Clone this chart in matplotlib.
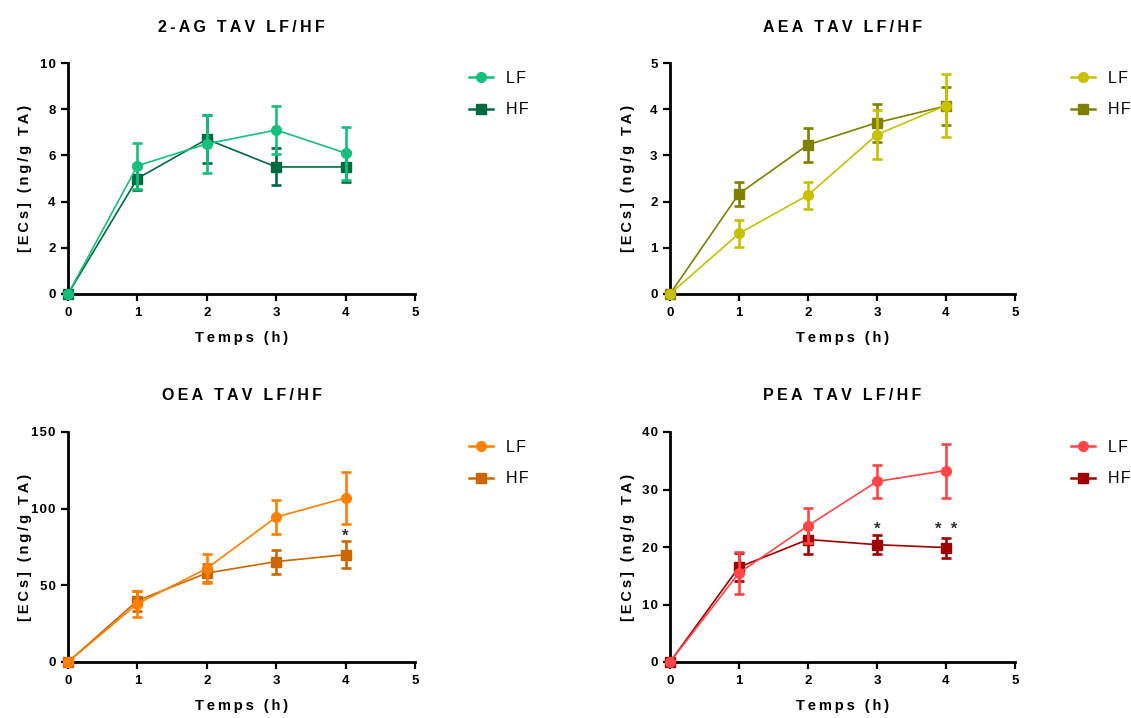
import matplotlib
matplotlib.use("Agg")
import matplotlib.pyplot as plt
from matplotlib.lines import Line2D

plt.rcParams['font.family'] = ['Liberation Sans', 'DejaVu Sans']

hours = [0, 1, 2, 3, 4]

titles = ["2-AG TAV LF/HF", "AEA TAV LF/HF", "OEA TAV LF/HF", "PEA TAV LF/HF"]

ag_lf = [0, 5.55, 6.5, 7.1, 6.1]
ag_lf_err = [0, 1.0, 1.25, 1.05, 1.15]
ag_hf = [0, 5.0, 6.7, 5.5, 5.5]
ag_hf_err = [0, 0.5, 1.05, 0.8, 0.65]

aea_lf = [0, 1.31, 2.14, 3.45, 4.08]
aea_lf_err = [0, 0.29, 0.29, 0.53, 0.68]
aea_hf = [0, 2.17, 3.23, 3.71, 4.07]
aea_hf_err = [0, 0.26, 0.37, 0.41, 0.41]

oea_lf = [0, 38, 61, 94.5, 107]
oea_lf_err = [0, 8.5, 9.5, 11, 17]
oea_hf = [0, 40, 58, 65.5, 70]
oea_hf_err = [0, 6.5, 6, 7.8, 9]

pea_lf = [0, 15.5, 23.7, 31.4, 33.3]
pea_lf_err = [0, 3.6, 3.0, 2.8, 4.7]
pea_hf = [0, 16.5, 21.3, 20.4, 19.9]
pea_hf_err = [0, 2.4, 2.6, 1.7, 1.75]

y_max = [10, 5, 150, 40]
y_step = [2, 1, 50, 10]

lf_colors = ["#14c07c", "#c8c000", "#ff8000", "#ff4545"]
hf_colors = ["#006a40", "#808000", "#cc6600", "#a00000"]

# significance marks per panel
stars_x = [[], [], [4], [3, 4]]
stars_y = [[], [], [82], [23.0, 23.0]]
stars_txt = [[], [], ["*"], ["*", "*  *"]]

series = [
    (ag_lf, ag_lf_err, ag_hf, ag_hf_err),
    (aea_lf, aea_lf_err, aea_hf, aea_hf_err),
    (oea_lf, oea_lf_err, oea_hf, oea_hf_err),
    (pea_lf, pea_lf_err, pea_hf, pea_hf_err),
]


def spaced(s, sep="\u2009"):
    return sep.join(s)


W, H = 1131, 718
fig = plt.figure(figsize=(W / 100, H / 100), dpi=100)

# axes boxes in pixel coords: left, right, top, bottom
boxes = [(68, 415, 63, 294), (670, 1015, 63, 294),
         (68, 415, 432, 662), (670, 1015, 432, 662)]
legend_pos = [(469, 94), (1071, 94), (469, 463), (1071, 463)]
ylabel_x = [25, 628, 25, 628]

for i in range(4):
    l, r, t, b = boxes[i]
    ax = fig.add_axes([l / W, 1 - b / H, (r - l) / W, (b - t) / H])
    lf, lfe, hf, hfe = series[i]

    ax.errorbar(hours, hf, yerr=hfe, color=hf_colors[i], marker='s', markersize=7,
                linewidth=1.2, elinewidth=1.9, capsize=3.4, capthick=1.9,
                clip_on=False, zorder=3)
    ax.errorbar(hours, lf, yerr=lfe, color=lf_colors[i], marker='o', markersize=7,
                linewidth=1.2, elinewidth=1.9, capsize=3.4, capthick=1.9,
                clip_on=False, zorder=4)

    for sx, sy, st in zip(stars_x[i], stars_y[i], stars_txt[i]):
        ax.text(sx, sy, st, ha='center', va='center', fontsize=12,
                color='#333333', fontweight='bold')

    ax.set_xlim(0, 5)
    ax.set_ylim(0, y_max[i])
    ax.set_xticks(range(0, 6))
    yt = list(range(0, y_max[i] + 1, y_step[i]))
    ax.set_yticks(yt)
    ax.set_xticklabels([str(v) for v in range(0, 6)], fontweight='bold', fontsize=9.5)
    ax.set_yticklabels([spaced(str(v), "\u200a") for v in yt], fontweight='bold', fontsize=9.5)
    for side in ['top', 'right']:
        ax.spines[side].set_visible(False)
    for side in ['left', 'bottom']:
        ax.spines[side].set_linewidth(2)
    ax.tick_params(direction='out', length=5, width=1.6, pad=4)

    fig.text(((l + r) / 2) / W, 1 - (t - 36) / H, spaced(titles[i]),
             ha='center', va='center', fontweight='bold', fontsize=11.5)
    ax.set_xlabel(spaced("Temps (h)"), fontweight='bold', fontsize=10.5, labelpad=9)
    fig.text(ylabel_x[i] / W, 1 - ((t + b) / 2) / H, spaced("[ECs] (ng/g TA)"),
             rotation=90, ha='center', va='center', fontweight='bold', fontsize=10.5)

    handles = [
        Line2D([], [], color=lf_colors[i], marker='o', markersize=7, linewidth=1.8),
        Line2D([], [], color=hf_colors[i], marker='s', markersize=7, linewidth=1.8),
    ]
    labels = [spaced("LF", "\u200a"), spaced("HF", "\u200a")]
    lx, ly = legend_pos[i]
    ax.legend(handles, labels, loc='center left',
              bbox_to_anchor=(lx / W, 1 - ly / H), bbox_transform=fig.transFigure,
              frameon=False, fontsize=11.5, handlelength=1.5, handletextpad=0.8,
              labelspacing=1.05, borderpad=0, borderaxespad=0)

fig.savefig("out.png", dpi=100)
